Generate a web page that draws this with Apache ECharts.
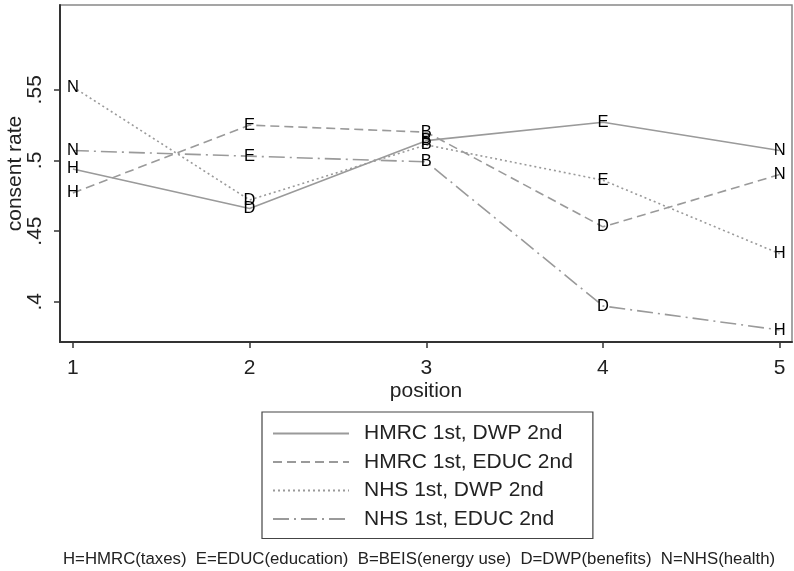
<!DOCTYPE html>
<html>
<head>
<meta charset="utf-8">
<script src="https://cdn.jsdelivr.net/npm/echarts@6/dist/echarts.min.js"></script>
<style>
html,body{margin:0;padding:0;background:#fff;}
#chart{width:794px;height:571px;}
</style>
</head>
<body>
<div id="chart"></div>
<script>
var positions = [1, 2, 3, 4, 5];
var xTicks = [1, 2, 3, 4, 5];
var yTicks = [0.4, 0.45, 0.5, 0.55];
var yTickLabels = ['.4', '.45', '.5', '.55'];

var seriesNames = ['HMRC 1st, DWP 2nd', 'HMRC 1st, EDUC 2nd', 'NHS 1st, DWP 2nd', 'NHS 1st, EDUC 2nd'];
var hmrcDwp  = [0.494, 0.466, 0.514, 0.527, 0.507];
var hmrcEduc = [0.477, 0.525, 0.520, 0.453, 0.490];
var nhsDwp   = [0.552, 0.472, 0.511, 0.486, 0.434];
var nhsEduc  = [0.507, 0.503, 0.499, 0.397, 0.380];

var hmrcDwpLetters  = ['H', 'D', 'B', 'E', 'N'];
var hmrcEducLetters = ['H', 'E', 'B', 'D', 'N'];
var nhsDwpLetters   = ['N', 'D', 'B', 'E', 'H'];
var nhsEducLetters  = ['N', 'E', 'B', 'D', 'H'];

var noteText = 'H=HMRC(taxes)  E=EDUC(education)  B=BEIS(energy use)  D=DWP(benefits)  N=NHS(health)';

var allValues = [hmrcDwp, hmrcEduc, nhsDwp, nhsEduc];
var allLetters = [hmrcDwpLetters, hmrcEducLetters, nhsDwpLetters, nhsEducLetters];
var dashTypes = ['solid', [9, 5], [2, 3], [16, 5, 2, 5]];

var LINE_COLOR = '#9a9a9a';
var FONT = 'Liberation Sans, Arial, sans-serif';

var series = [];
allValues.forEach(function (vals, i) {
  series.push({
    name: seriesNames[i],
    type: 'line',
    data: positions.map(function (p, k) { return [p, vals[k]]; }),
    symbol: 'none',
    lineStyle: { color: LINE_COLOR, width: 1.6, type: dashTypes[i] },
    itemStyle: { color: LINE_COLOR },
    z: 2,
    animation: false
  });
});
allValues.forEach(function (vals, i) {
  var letters = allLetters[i];
  series.push({
    type: 'scatter',
    data: positions.map(function (p, k) { return [p, vals[k], letters[k]]; }),
    symbolSize: 1,
    itemStyle: { color: 'rgba(0,0,0,0)', opacity: 1 },
    label: {
      show: true,
      position: 'inside',
      formatter: function (p) { return p.data[2]; },
      color: '#000',
      textBorderWidth: 0,
      fontFamily: FONT,
      fontSize: 16.5
    },
    z: 5,
    silent: true,
    animation: false
  });
});

var chart = echarts.init(document.getElementById('chart'), null, { renderer: 'canvas' });
chart.setOption({
  backgroundColor: '#fff',
  animation: false,
  grid: {
    left: 60, right: 2, top: 5, height: 337,
    outerBoundsMode: 'none',
    containLabel: false,
    show: true, borderColor: '#888', borderWidth: 1.5
  },
  xAxis: {
    type: 'value',
    min: 0.927, max: 5.07,
    name: 'position',
    nameLocation: 'middle',
    nameGap: 39,
    nameMoveOverlap: false,
    nameTextStyle: { fontFamily: FONT, fontSize: 21, color: '#222' },
    axisLine: { show: true, onZero: false, lineStyle: { color: '#333', width: 2 } },
    axisTick: { show: true, length: 6, customValues: xTicks, lineStyle: { color: '#333', width: 1.5 } },
    axisLabel: { customValues: xTicks, margin: 16, fontFamily: FONT, fontSize: 21, color: '#222',
      formatter: function (v) { return String(v); } },
    splitLine: { show: false }
  },
  yAxis: {
    type: 'value',
    min: 0.3715, max: 0.610,
    name: 'consent rate',
    nameLocation: 'middle',
    nameGap: 34,
    nameMoveOverlap: false,
    nameTextStyle: { fontFamily: FONT, fontSize: 21, color: '#222' },
    axisLine: { show: true, onZero: false, lineStyle: { color: '#333', width: 2 } },
    axisTick: { show: true, length: 6, customValues: yTicks, lineStyle: { color: '#333', width: 1.5 } },
    axisLabel: {
      customValues: yTicks, rotate: 90, margin: 14,
      fontFamily: FONT, fontSize: 21, color: '#222',
      formatter: function (v) {
        var idx = -1;
        yTicks.forEach(function (t, k) { if (Math.abs(t - v) < 1e-6) idx = k; });
        return idx >= 0 ? yTickLabels[idx] : '';
      }
    },
    splitLine: { show: false }
  },
  legend: {
    data: seriesNames,
    orient: 'vertical',
    left: 262, top: 412,
    itemWidth: 76, itemHeight: 14, itemGap: 7.5,
    padding: [11, 20, 9, 10],
    borderColor: '#444', borderWidth: 1.2,
    itemStyle: { color: 'rgba(0,0,0,0)', borderWidth: 0, opacity: 0 },
    textStyle: { fontFamily: FONT, fontSize: 21, color: '#222', lineHeight: 21, padding: [0, 0, 0, 10] },
    selectedMode: false
  },
  graphic: [{
    type: 'text',
    left: 63,
    top: 551,
    style: {
      text: noteText,
      font: '16.8px "Liberation Sans", Arial, sans-serif',
      fill: '#222'
    }
  }],
  series: series
});
</script>
</body>
</html>
